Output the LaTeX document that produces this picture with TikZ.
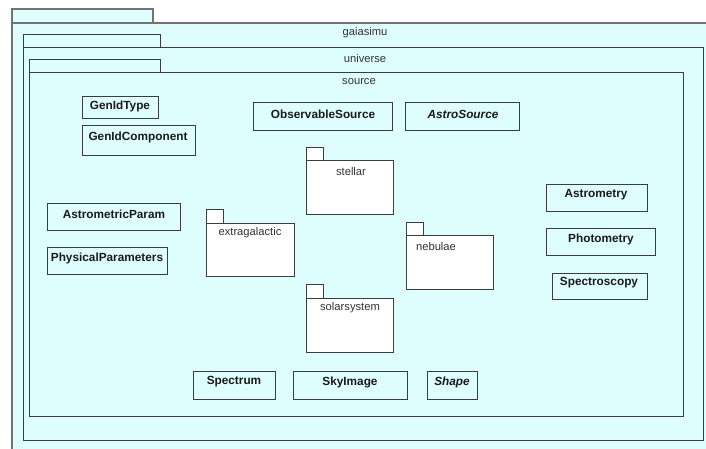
\documentclass[tikz,border=0pt]{standalone}
\usepackage{fontspec}
\setmainfont{Liberation Sans}
\definecolor{bgc}{HTML}{DEFDFD}
\definecolor{lnc}{HTML}{3C3C3C}
\definecolor{txc}{HTML}{1A1A1A}
\begin{document}
\begin{tikzpicture}[x=1pt,y=-1pt,
  pkgline/.style={draw=lnc,line width=0.9pt},
  outerline/.style={draw=black!55,line width=1.4pt},
  classbox/.style={draw=lnc,line width=0.9pt,fill=bgc},
  clname/.style={font=\fontsize{11.8}{13}\selectfont\bfseries,text=txc,inner sep=0pt,anchor=center},
  clitname/.style={font=\fontsize{11.8}{13}\selectfont\bfseries\itshape,text=txc,inner sep=0pt,anchor=center},
  pkgbody/.style={draw=lnc,line width=0.8pt,fill=white},
  pkgname/.style={font=\fontsize{11.2}{13}\selectfont,text=black!80,inner sep=0pt,anchor=center},
  bigname/.style={font=\fontsize{11.2}{13}\selectfont,text=black!80,inner sep=0pt,anchor=center}]
\useasboundingbox (0,0) rectangle (706,448);
\fill[white] (0,0) rectangle (706,448);
% gaiasimu
\fill[bgc] (12,9) rectangle (153,23);
\fill[bgc] (12,23) rectangle (710,452);
\draw[outerline] (12,452) -- (12,9) -- (153,9) -- (153,23);
\draw[outerline] (12,23) -- (710,23);
\node[bigname] (gaiasimu) at (365,33) {gaiasimu};
% universe
\draw[pkgline] (23,47) -- (23,34) -- (160,34) -- (160,47);
\draw[pkgline] (23,47) rectangle (703,440);
\node[bigname] (universe) at (365,58) {universe};
% source
\draw[pkgline] (29,72) -- (29,59) -- (160,59) -- (160,72);
\draw[pkgline] (29,72) rectangle (683,416);
\node[bigname] (source) at (359,82) {source};
% classes
\draw[classbox] (82,96) rectangle (158,118);
\node[clname] (genidtype) at (120,106) {GenIdType};
\draw[classbox] (82,125) rectangle (195,155);
\node[clname] (genidcomp) at (138,137) {GenIdComponent};
\draw[classbox] (253,102) rectangle (392,130);
\node[clname] (obssrc) at (323,114) {ObservableSource};
\draw[classbox] (405,102) rectangle (519,130);
\node[clitname] (astrosrc) at (463,114) {AstroSource};
\draw[classbox] (47,203) rectangle (180,230);
\node[clname] (astroparam) at (114,214) {AstrometricParam};
\draw[classbox] (47,247) rectangle (167,274);
\node[clname] (physparam) at (107,258) {PhysicalParameters};
\draw[classbox] (546,184) rectangle (647,211);
\node[clname] (astrometry) at (596,195) {Astrometry};
\draw[classbox] (546,228) rectangle (655,255);
\node[clname] (photometry) at (601,239) {Photometry};
\draw[classbox] (552,273) rectangle (647,299);
\node[clname] (spectroscopy) at (599,283) {Spectroscopy};
\draw[classbox] (193,371) rectangle (275,399);
\node[clname] (spectrum) at (234,382) {Spectrum};
\draw[classbox] (293,371) rectangle (407,399);
\node[clname] (skyimage) at (350,382) {SkyImage};
\draw[classbox] (427,371) rectangle (477,399);
\node[clitname] (shape) at (452,382) {Shape};
% packages
\draw[pkgbody] (306,147) rectangle (323,160);
\draw[pkgbody] (306,160) rectangle (393,214);
\node[pkgname] (stellar) at (351,171) {stellar};
\draw[pkgbody] (206,209) rectangle (223,223);
\draw[pkgbody] (206,223) rectangle (294,276);
\node[pkgname] (extragalactic) at (250,233) {extragalactic};
\draw[pkgbody] (406,222) rectangle (423,235);
\draw[pkgbody] (406,235) rectangle (493,289);
\node[pkgname] (nebulae) at (436,246) {nebulae};
\draw[pkgbody] (306,284) rectangle (323,298);
\draw[pkgbody] (306,298) rectangle (393,352);
\node[pkgname] (solarsystem) at (350,308) {solarsystem};
\end{tikzpicture}
\end{document}
